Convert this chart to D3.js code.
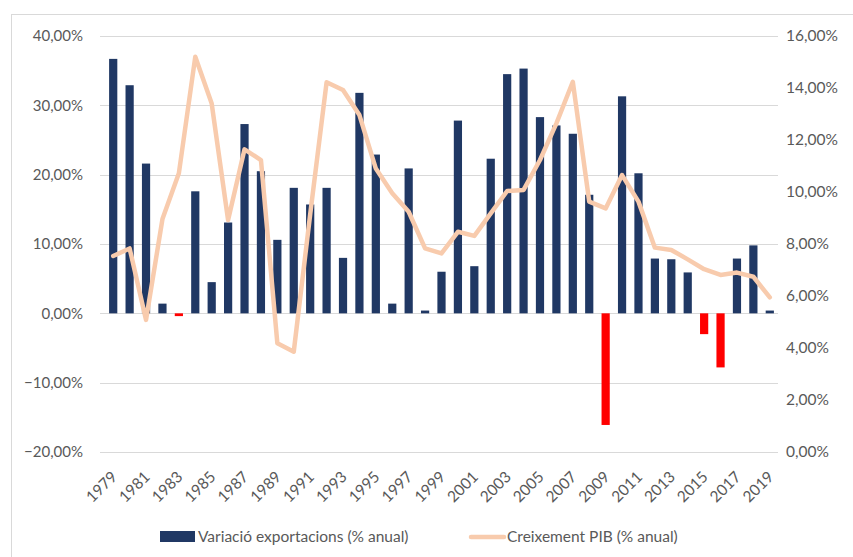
<!DOCTYPE html>
<html>
<head>
<meta charset="utf-8">
<script src="https://cdn.jsdelivr.net/npm/d3@7"></script>
<style>
  html, body { margin: 0; padding: 0; background: #ffffff; }
  svg { display: block; font-family: Lato, "Liberation Sans", sans-serif; }
</style>
</head>
<body>
<svg id="chart" width="853" height="557"></svg>
<script>
const years = d3.range(1979, 2020).map(String);
const exportVariation = [36.7, 32.9, 21.6, 1.4, -0.4, 17.6, 4.5, 13.1, 27.3, 20.5,
  10.6, 18.1, 15.7, 18.1, 8.0, 31.8, 22.9, 1.4, 20.9, 0.4,
  6.0, 27.8, 6.8, 22.3, 34.5, 35.3, 28.3, 27.1, 25.9, 17.1,
  -16.1, 31.3, 20.2, 7.9, 7.8, 5.9, -3.0, -7.8, 7.9, 9.8, 0.4];
const gdpGrowth = [7.54, 7.83, 5.08, 8.96, 10.72, 15.2, 13.4, 8.92, 11.64, 11.23,
  4.18, 3.86, 9.14, 14.22, 13.92, 12.96, 10.9, 9.95, 9.24, 7.83,
  7.64, 8.47, 8.31, 9.18, 10.04, 10.08, 11.23, 12.64, 14.24, 9.63,
  9.37, 10.65, 9.63, 7.86, 7.77, 7.41, 7.03, 6.81, 6.90, 6.74, 5.95];
const leftTicks = [-20, -10, 0, 10, 20, 30, 40];
const rightTicks = [0, 2, 4, 6, 8, 10, 12, 14, 16];
const xTickLabels = years.filter((d, i) => i % 2 === 0);
const seriesNames = ["Variació exportacions (% anual)", "Creixement PIB (% anual)"];

const svg = d3.select("#chart");
const fmt = v => d3.format(".2f")(v).replace(".", ",") + "%";

// chart frame
svg.append("rect").attr("x", 11.5).attr("y", 14.5).attr("width", 900).attr("height", 600)
  .attr("fill", "none").attr("stroke", "#d9d9d9").attr("stroke-width", 1);

const plotLeft = 105, plotRight = 778, plotTop = 36, plotBottom = 452;

const x = d3.scaleBand().domain(years).range([plotLeft, plotRight]).paddingInner(0.5).paddingOuter(0.25);
const yL = d3.scaleLinear().domain([-20, 40]).range([plotBottom, plotTop]);
const yR = d3.scaleLinear().domain([0, 16]).range([plotBottom, plotTop]);

// gridlines
svg.append("g").selectAll("line").data(leftTicks).join("line")
  .attr("x1", plotLeft - 5).attr("x2", plotRight)
  .attr("y1", d => Math.round(yL(d)) + 0.5).attr("y2", d => Math.round(yL(d)) + 0.5)
  .attr("stroke", "#d9d9d9").attr("stroke-width", 1);

// left axis labels
svg.append("g").selectAll("text").data(leftTicks).join("text")
  .attr("x", 83).attr("y", d => yL(d)).attr("dy", "0.35em")
  .attr("text-anchor", "end").attr("font-size", 15).attr("fill", "#595959")
  .text(fmt);

// right axis labels
svg.append("g").selectAll("text").data(rightTicks).join("text")
  .attr("x", 786).attr("y", d => yR(d)).attr("dy", "0.35em")
  .attr("text-anchor", "start").attr("font-size", 15.5).attr("fill", "#595959")
  .text(fmt);

// bars
svg.append("g").selectAll("rect").data(years).join("rect")
  .attr("x", d => x(d))
  .attr("width", x.bandwidth())
  .attr("y", (d, i) => yL(Math.max(0, exportVariation[i])))
  .attr("height", (d, i) => Math.abs(yL(exportVariation[i]) - yL(0)))
  .attr("fill", (d, i) => exportVariation[i] < 0 ? "#ff0000" : "#203864");

// line
const line = d3.line()
  .x((d, i) => x(years[i]) + x.bandwidth() / 2)
  .y(d => yR(d));
svg.append("path").datum(gdpGrowth)
  .attr("d", line).attr("fill", "none")
  .attr("stroke", "#f8cbad").attr("stroke-width", 4.5)
  .attr("stroke-linejoin", "round").attr("stroke-linecap", "round");

// x labels
svg.append("g").selectAll("text").data(xTickLabels).join("text")
  .attr("transform", d => `translate(${x(d) + x.bandwidth() / 2 + 1},${plotBottom + 22}) rotate(-45)`)
  .attr("text-anchor", "end").attr("dy", "0.35em")
  .attr("font-size", 15.5).attr("fill", "#595959")
  .text(d => d);

// legend
const lg = svg.append("g");
lg.append("rect").attr("x", 160).attr("y", 531).attr("width", 35).attr("height", 11).attr("fill", "#203864");
lg.append("text").attr("x", 198).attr("y", 537).attr("dy", "0.35em")
  .attr("font-size", 15.5).attr("fill", "#595959").text(seriesNames[0]);
lg.append("line").attr("x1", 471).attr("x2", 504).attr("y1", 537).attr("y2", 537)
  .attr("stroke", "#f8cbad").attr("stroke-width", 4.5).attr("stroke-linecap", "round");
lg.append("text").attr("x", 507).attr("y", 537).attr("dy", "0.35em")
  .attr("font-size", 15.5).attr("fill", "#595959").text(seriesNames[1]);
</script>
</body>
</html>
